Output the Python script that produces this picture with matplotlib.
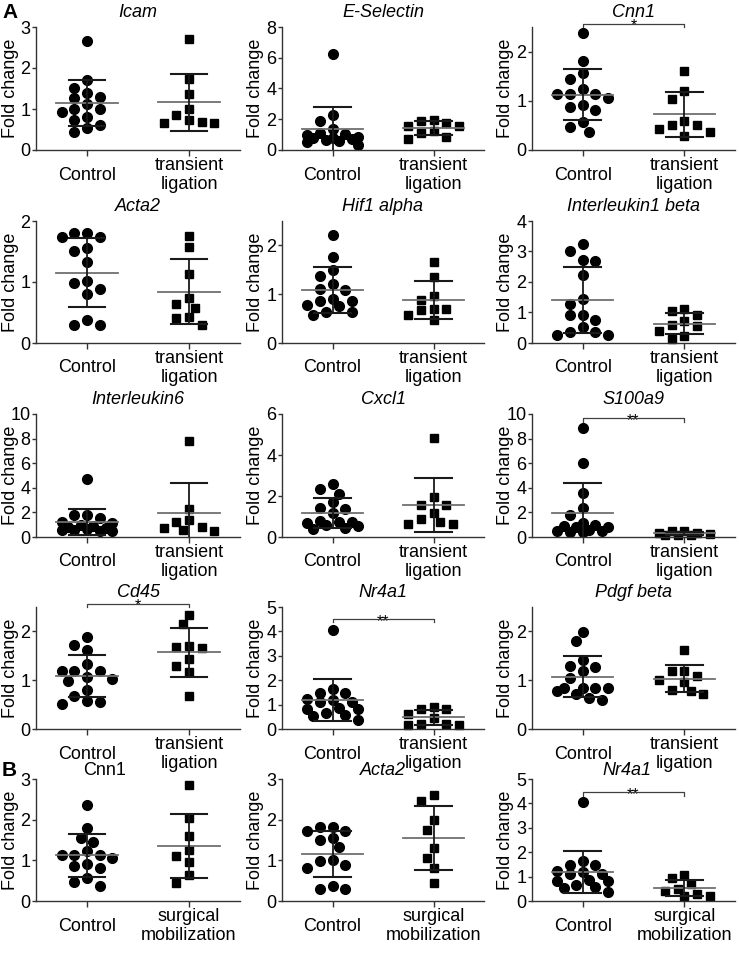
import numpy as np
import matplotlib
matplotlib.use('Agg')
import matplotlib.pyplot as plt

plt.rcParams['font.family'] = ['Liberation Sans', 'DejaVu Sans']

# ---------------- data ----------------
groups_A = ['Control', 'transient\nligation']
groups_B = ['Control', 'surgical\nmobilization']

icam_ctrl = [2.67, 1.71, 1.52, 1.30, 1.26, 1.40, 1.13, 1.00, 0.93, 0.99, 0.80, 0.74, 0.61, 0.54, 0.44]
icam_tl = [2.71, 1.74, 1.37, 1.00, 0.86, 0.68, 0.66, 0.67, 0.74]

esel_ctrl = [6.26, 2.30, 1.91, 1.37, 1.09, 1.05, 1.00, 0.85, 0.80, 0.78, 0.70, 0.62, 0.58, 0.55, 0.32]
esel_tl = [1.91, 1.98, 1.74, 1.59, 1.59, 1.09, 1.26, 0.83, 0.74]

cnn1_ctrl = [2.37, 1.80, 1.56, 1.44, 1.23, 1.13, 1.13, 1.13, 1.06, 0.87, 0.92, 0.81, 0.56, 0.47, 0.37]
cnn1_tl = [1.61, 1.20, 1.04, 0.58, 0.51, 0.42, 0.37, 0.51, 0.28]

acta2_ctrl = [1.81, 1.81, 1.73, 1.73, 1.51, 1.55, 1.32, 1.02, 0.99, 0.89, 0.80, 0.38, 0.30, 0.30]
acta2_tl = [1.76, 1.58, 1.13, 0.64, 0.73, 0.57, 0.43, 0.41, 0.30]

hif1a_ctrl = [2.22, 1.77, 1.49, 1.38, 1.20, 1.08, 1.10, 0.87, 0.87, 0.91, 0.77, 0.75, 0.63, 0.58, 0.63]
hif1a_tl = [1.67, 1.35, 0.96, 0.89, 0.70, 0.67, 0.70, 0.57, 0.48]

il1b_ctrl = [3.23, 3.01, 2.69, 2.73, 2.24, 1.45, 1.29, 0.93, 0.93, 0.74, 0.52, 0.36, 0.27, 0.27, 0.36]
il1b_tl = [0.91, 1.04, 1.13, 0.71, 0.60, 0.56, 0.38, 0.23, 0.14]

il6_ctrl = [4.71, 1.80, 1.75, 1.55, 1.25, 1.15, 1.00, 0.90, 0.80, 0.70, 0.65, 0.60, 0.50, 0.45, 0.55]
il6_tl = [7.82, 2.30, 1.40, 1.25, 0.85, 0.75, 0.55, 0.45]

cxcl1_ctrl = [2.57, 2.35, 2.10, 1.69, 1.37, 1.40, 1.15, 0.80, 0.74, 0.74, 0.70, 0.54, 0.41, 0.46, 0.60]
cxcl1_tl = [4.82, 1.94, 1.56, 1.56, 1.15, 0.74, 0.87, 0.62, 0.62]

s100a9_ctrl = [8.86, 5.99, 3.60, 2.37, 1.75, 1.17, 0.95, 0.90, 0.85, 0.80, 0.55, 0.49, 0.45, 0.41, 0.40]
s100a9_tl = [0.45, 0.35, 0.30, 0.25, 0.20, 0.15, 0.15, 0.45]

cd45_ctrl = [1.88, 1.73, 1.61, 1.34, 1.19, 1.19, 1.19, 1.06, 0.99, 1.02, 0.79, 0.68, 0.57, 0.51, 0.55]
cd45_tl = [2.34, 2.16, 1.69, 1.71, 1.66, 1.44, 1.30, 1.16, 0.68]

nr4a1_ctrl = [4.05, 1.63, 1.47, 1.47, 1.22, 1.17, 1.09, 1.09, 0.88, 0.83, 0.80, 0.65, 0.58, 0.52, 0.38]
nr4a1_tl = [0.82, 0.82, 0.90, 0.45, 0.61, 0.22, 0.15, 0.15, 0.22]

pdgfb_ctrl = [1.99, 1.80, 1.42, 1.30, 1.28, 1.19, 1.04, 0.84, 0.84, 0.84, 0.84, 0.72, 0.77, 0.60, 0.63]
pdgfb_tl = [1.61, 1.19, 1.18, 1.08, 1.01, 0.96, 0.79, 0.77, 0.72]

cnn1_sm = [2.85, 2.05, 1.60, 1.25, 1.10, 0.95, 0.65, 0.45]
acta2_sm = [2.60, 2.45, 2.00, 1.75, 1.30, 1.05, 0.80, 0.45]
nr4a1_sm = [1.05, 0.95, 0.70, 0.50, 0.40, 0.30, 0.20, 0.20]

# panel table: (title, italic, control, treated, groups, ymax, ystep, significance, bracket height)
panels = [
    ('Icam', True, icam_ctrl, icam_tl, groups_A, 3, 1, None, None),
    ('E-Selectin', True, esel_ctrl, esel_tl, groups_A, 8, 2, None, None),
    ('Cnn1', True, cnn1_ctrl, cnn1_tl, groups_A, 2.5, 1, '*', 2.57),
    ('Acta2', True, acta2_ctrl, acta2_tl, groups_A, 2, 1, None, None),
    ('Hif1 alpha', True, hif1a_ctrl, hif1a_tl, groups_A, 2.5, 1, None, None),
    ('Interleukin1 beta', True, il1b_ctrl, il1b_tl, groups_A, 4, 1, None, None),
    ('Interleukin6', True, il6_ctrl, il6_tl, groups_A, 10, 2, None, None),
    ('Cxcl1', True, cxcl1_ctrl, cxcl1_tl, groups_A, 6, 2, None, None),
    ('S100a9', True, s100a9_ctrl, s100a9_tl, groups_A, 10, 2, '**', 9.67),
    ('Cd45', True, cd45_ctrl, cd45_tl, groups_A, 2.5, 1, '*', 2.57),
    ('Nr4a1', True, nr4a1_ctrl, nr4a1_tl, groups_A, 5, 1, '**', 4.52),
    ('Pdgf beta', True, pdgfb_ctrl, pdgfb_tl, groups_A, 2.5, 1, None, None),
    ('Cnn1', False, cnn1_ctrl, cnn1_sm, groups_B, 3, 1, None, None),
    ('Acta2', True, acta2_ctrl, acta2_sm, groups_B, 3, 1, None, None),
    ('Nr4a1', True, nr4a1_ctrl, nr4a1_sm, groups_B, 5, 1, '**', 4.45),
]

# ---------------- layout ----------------
W, H = 739, 972
fig = plt.figure(figsize=(W / 100, H / 100), dpi=100)

col_x = [(36, 240), (282, 484), (532, 735)]
ylabel_x = [11, 256, 505]
row_y = [(27, 150), (221, 343), (414, 537), (607, 729), (779, 901)]
title_x_override = {12: 105, 14: 627}


def swarm_offsets(values, px_per_x, px_per_y, step_px=12.7, min_dist=10.5, kmax=4):
    vals = np.asarray(values, float)
    order = np.argsort(-vals, kind='stable')
    placed = []
    offs = np.zeros(len(vals))
    cand = [0]
    for k in range(1, kmax + 1):
        cand += [-k, k]
    for i in order:
        y = vals[i] * px_per_y
        best_x, best_d = 0.0, -1.0
        chosen = None
        for k in cand:
            x = k * step_px / 2.0
            dmin = min([np.hypot(px - x, py - y) for (px, py) in placed] or [1e9])
            if dmin >= min_dist:
                chosen = x
                break
            if dmin > best_d:
                best_d, best_x = dmin, x
        if chosen is None:
            chosen = best_x
        placed.append((chosen, y))
        offs[i] = chosen / px_per_x
    return offs


for idx, (title, ital, ctrl, trt, groups, ymax, ystep, sig, bh) in enumerate(panels):
    r, c = divmod(idx, 3)
    x0, x1 = col_x[c]
    y0, y1 = row_y[r]
    ax = fig.add_axes([x0 / W, 1 - y1 / H, (x1 - x0) / W, (y1 - y0) / H])
    ax.set_xlim(-0.5, 1.5)
    ax.set_ylim(0, ymax)
    px_x = (x1 - x0) / 2.0
    px_y = (y1 - y0) / ymax

    for gi, (data, marker, ms) in enumerate([(ctrl, 'o', 7.0), (trt, 's', 6.2)]):
        d = np.asarray(data, float)
        offs = swarm_offsets(d, px_x, px_y)
        ax.plot(gi + offs, d, linestyle='none', marker=marker, ms=ms,
                color='black', mec='black', zorder=2, clip_on=False)
        m = d.mean()
        s = d.std(ddof=1)
        ax.plot([gi - 0.3, gi + 0.3], [m, m], color='#707070', lw=1.3, zorder=3)
        ax.plot([gi, gi], [m - s, m + s], color='#1a1a1a', lw=1.3, zorder=3)
        ax.plot([gi - 0.18, gi + 0.18], [m + s, m + s], color='#1a1a1a', lw=1.5, zorder=3)
        ax.plot([gi - 0.18, gi + 0.18], [m - s, m - s], color='#1a1a1a', lw=1.5, zorder=3)

    if sig:
        tick = ymax * 0.03
        ax.plot([0, 0, 1, 1], [bh - tick, bh, bh, bh - tick], color='#404040',
                lw=0.9, clip_on=False, zorder=4)
        ax.annotate(sig, xy=(0.5, bh), xytext=(0, -5), textcoords='offset points',
                    ha='center', va='baseline', fontsize=11.5, annotation_clip=False)

    t = ax.set_title(title, fontsize=13, style='italic' if ital else 'normal',
                     pad=7.5 if r < 4 else 3.0)
    if idx in title_x_override:
        t.set_x((title_x_override[idx] - x0) / (x1 - x0))
    ax.set_yticks(np.arange(0, ymax + 0.01, ystep))
    ax.set_yticklabels([f'{v:g}' for v in np.arange(0, ymax + 0.01, ystep)])
    ax.set_xticks([0, 1])
    ax.set_xticklabels(groups)
    for lab in ax.get_xticklabels():
        lab.set_va('center')
    ax.tick_params(axis='x', length=4, width=1, pad=14, labelsize=13, color='#333333')
    ax.tick_params(axis='y', length=3, width=1, pad=1, labelsize=13, color='#333333')
    ax.set_ylabel('Fold change', fontsize=13, va='center')
    ax.yaxis.set_label_coords((ylabel_x[c] - x0) / (x1 - x0), 0.5)
    for sp in ['top', 'right']:
        ax.spines[sp].set_visible(False)
    for sp in ['left', 'bottom']:
        ax.spines[sp].set_linewidth(1.0)
        ax.spines[sp].set_color('#333333')

fig.text(2 / W, 1 - 12 / H, 'A', fontsize=15, fontweight='bold', va='center', ha='left')
fig.text(2 / W, 1 - 771 / H, 'B', fontsize=15, fontweight='bold', va='center', ha='left')

fig.savefig('out.png', dpi=100)
